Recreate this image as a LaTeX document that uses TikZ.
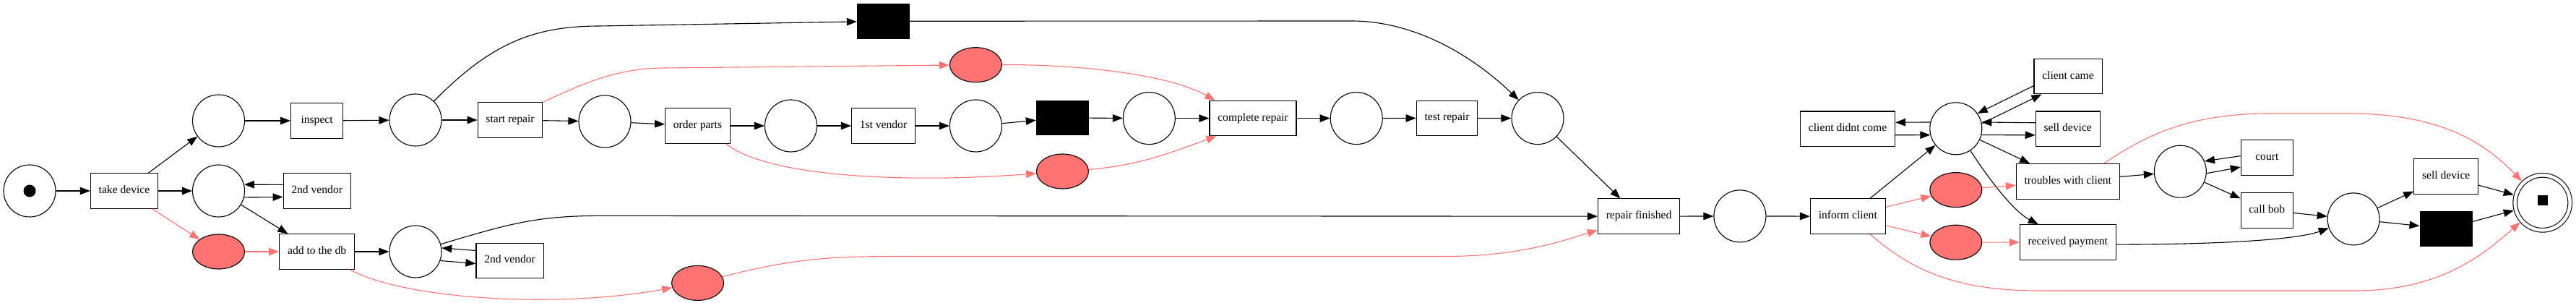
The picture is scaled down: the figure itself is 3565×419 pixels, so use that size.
\documentclass[tikz,border=0pt]{standalone}
\usepackage{fontspec}
\setmainfont{Liberation Serif}
\usetikzlibrary{arrows.meta,shapes.geometric}
\definecolor{lred}{RGB}{255,115,115}
\tikzset{
    place/.style={circle,draw,line width=1.1pt,minimum size=72pt,inner sep=0pt},
    redplace/.style={ellipse,draw,fill=lred,line width=1.1pt,minimum width=72pt,minimum height=48pt,inner sep=0pt},
    trans/.style={rectangle,draw,line width=1.1pt,minimum width=72pt,minimum height=48.6pt,inner xsep=11.3pt,
        text height=10.5pt,text depth=3.5pt,font=\fontsize{15.6}{18}\selectfont},
    silent/.style={rectangle,fill=black,minimum width=73pt,minimum height=48.6pt,inner sep=0pt},
    arc/.style={line width=1.1pt,-{Triangle[length=14pt,width=10.5pt]}},
    redarc/.style={arc,color=lred}
}
\begin{document}
\begin{tikzpicture}[x=1pt,y=1pt]
                \useasboundingbox (0,0) rectangle (3565,419);
                \node[place] (pStart) at (41,155) {};
                \node[circle,fill,minimum size=17pt,inner sep=0pt] (tokStart) at (pStart) {};
                \node[trans] (take) at (172,155) {take device};
                \node[place] (pA) at (302.5,252) {};
                \node[place] (pB) at (302.5,155) {};
                \node[redplace] (rA) at (302.5,71) {};
                \node[trans] (inspect) at (438.6,252) {inspect};
                \node[trans] (vendA) at (438.7,155) {2nd vendor};
                \node[trans] (adddb) at (438.6,71) {add to the db};
                \node[place] (pC) at (575,253) {};
                \node[place] (pD) at (575,71) {};
                \node[trans] (start) at (706,253) {start repair};
                \node[trans] (vendB) at (705.6,58.5) {2nd vendor};
                \node[place] (pE) at (837,251) {};
                \node[redplace] (rB) at (965.6,27.6) {};
                \node[trans] (order) at (965.5,245) {order parts};
                \node[place] (pF) at (1094.5,245) {};
                \node[trans] (vendC) at (1222.5,245) {1st vendor};
                \node[silent] (tauA) at (1222.5,389.7) {};
                \node[redplace] (rC) at (1350.4,329.3) {};
                \node[place] (pG) at (1350.4,245) {};
                \node[silent] (tauB) at (1470.5,256) {};
                \node[redplace] (rD) at (1470.4,182) {};
                \node[place] (pH) at (1590.3,255.4) {};
                \node[trans] (complete) at (1734,255.4) {complete repair};
                \node[place] (pI) at (1877.2,255.4) {};
                \node[trans] (test) at (2002.5,255.6) {test repair};
                \node[place] (pJ) at (2128,255.4) {};
                \node[trans] (finished) at (2268,119.8) {repair finished};
                \node[place] (pK) at (2407.9,120.1) {};
                \node[trans] (inform) at (2557.3,119.8) {inform client};
                \node[trans] (didnt) at (2557.1,240.7) {client didnt come};
                \node[place] (pL) at (2706.8,241.2) {};
                \node[redplace] (rE) at (2706.8,156.4) {};
                \node[redplace] (rF) at (2706.8,83.8) {};
                \node[trans] (came) at (2862,313.4) {client came};
                \node[trans] (sellA) at (2861.7,240.7) {sell device};
                \node[trans] (troubles) at (2861.8,168.2) {troubles with client};
                \node[trans] (payment) at (2861.8,83.9) {received payment};
                \node[place] (pM) at (3017.3,181.8) {};
                \node[trans] (court) at (3137.3,200.9) {court};
                \node[trans] (bob) at (3137.3,128.2) {call bob};
                \node[place] (pN) at (3257.1,116.1) {};
                \node[trans] (sellB) at (3385.2,175.1) {sell device};
                \node[silent] (tauC) at (3385.2,102.7) {};
                \node[place,double,double distance=4.6pt,minimum size=76pt,outer sep=3.4pt] (pEnd) at (3518.7,138.7) {};
                \node[fill,minimum size=14.3pt,inner sep=0pt] (tokEnd) at (3518.9,141.9) {};

                \draw[arc] (pStart) -- (take);
                \draw[arc] (take) -- (pA);
                \draw[arc] (take) -- (pB);
                \draw[redarc] (take) -- (rA);
                \draw[arc] (pA) -- (inspect);
                \draw[arc] (inspect) -- (pC);
                \draw[arc] ([yshift=8.6pt]vendA.west) -- (pB.14);
                \draw[arc] (pB.-14) -- ([yshift=-8.5pt]vendA.west);
                \draw[arc] (pB) -- (adddb);
                \draw[redarc] (rA) -- (adddb);
                \draw[arc] (adddb) -- (pD);
                \draw[redarc] (adddb) .. controls (560,5) and (770,-8) .. (rB);
                \draw[arc] (pC) -- (start);
                \draw[arc] (pC) .. controls (680,360) and (740,383) .. (830,383) -- (tauA);
                \draw[redarc] (start.north east) .. controls (800,300) and (850,325) .. (920,325) -- (rC);
                \draw[arc] (start) -- (pE);
                \draw[arc] ([yshift=14pt]vendB.west) -- (pD.8);
                \draw[arc] (pD.-20) -- ([yshift=-4pt]vendB.west);
                \draw[arc] (pD) .. controls (700,108) and (740,120.6) .. (830,120.6) -- (finished);
                \draw[redarc] (rB) .. controls (1100,62) and (1150,64.5) .. (1250,64.5) -- (2000,64.5)
                    .. controls (2100,64.5) and (2160,85) .. ([yshift=6pt]finished.south west);
                \draw[arc] (pE) -- (order);
                \draw[arc] (order) -- (pF);
                \draw[redarc] ([xshift=-6pt]order.south east) .. controls (1060,175) and (1250,165) .. (rD);
                \draw[arc] (pF) -- (vendC);
                \draw[arc] (vendC) -- (pG);
                \draw[arc] (pG) -- (tauB);
                \draw[arc] (tauB) -- (pH);
                \draw[arc] (pH) -- (complete);
                \draw[redarc] (rC) .. controls (1500,330) and (1620,315) .. ([xshift=8pt]complete.north west);
                \draw[redarc] (rD) .. controls (1580,190) and (1630,212) .. ([xshift=10pt]complete.south west);
                \draw[arc] (complete) -- (pI);
                \draw[arc] (pI) -- (test);
                \draw[arc] (test) -- (pJ);
                \draw[arc] (tauA) -- (1870,390) .. controls (1960,390) and (2040,340) .. (pJ);
                \draw[arc] (pJ) -- (finished);
                \draw[arc] (finished) -- (pK);
                \draw[arc] (pK) -- (inform);
                \draw[arc] (inform) -- (pL);
                \draw[redarc] (inform) -- (rE);
                \draw[redarc] (inform) -- (rF);
                \draw[redarc] ([xshift=31pt]inform.south) .. controls (2640,50) and (2700,17) .. (2820,17) -- (3260,17)
                    .. controls (3380,17) and (3440,70) .. (pEnd);
                \draw[arc] (pL.166) -- ([yshift=9pt]didnt.east);
                \draw[arc] ([yshift=-8.5pt]didnt.east) -- (pL.194);
                \draw[arc] ([yshift=-13pt]came.west) -- (pL.35);
                \draw[arc] (pL.11) -- ([xshift=11pt]came.south west);
                \draw[arc] ([yshift=8.5pt]sellA.west) -- (pL.14);
                \draw[arc] (pL.-14) -- ([yshift=-8.5pt]sellA.west);
                \draw[arc] (pL) -- (troubles);
                \draw[arc] (pL) .. controls (2760,160) and (2790,125) .. ([xshift=-41pt]payment.north);
                \draw[redarc] (rE) -- (troubles);
                \draw[redarc] (rF) -- (payment);
                \draw[arc] (troubles) -- (pM);
                \draw[redarc] ([xshift=50pt]troubles.north) .. controls (2960,225) and (3020,262) .. (3140,262) -- (3250,262)
                    .. controls (3380,262) and (3440,220) .. (pEnd);
                \draw[arc] ([yshift=2.5pt]court.west) -- (pM.23);
                \draw[arc] (pM.-4) -- ([yshift=-13pt]court.west);
                \draw[arc] (pM) -- (bob);
                \draw[arc] (bob) -- (pN);
                \draw[arc] ([yshift=-3pt]payment.east) .. controls (3080,81) and (3180,88) .. (pN);
                \draw[arc] (pN) -- (sellB);
                \draw[arc] (pN) -- (tauC);
                \draw[arc] (sellB) -- (pEnd);
                \draw[arc] (tauC) -- (pEnd);
\end{tikzpicture}
\end{document}
